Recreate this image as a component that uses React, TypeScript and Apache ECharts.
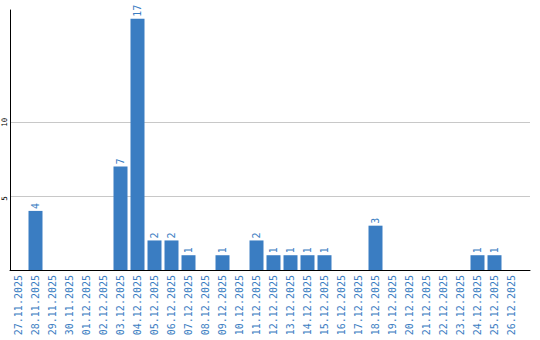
import React, { useEffect, useRef } from "react";
import * as echarts from "echarts";

const categories = [
  "27.11.2025", "28.11.2025", "29.11.2025", "30.11.2025", "01.12.2025", "02.12.2025",
  "03.12.2025", "04.12.2025", "05.12.2025", "06.12.2025", "07.12.2025", "08.12.2025",
  "09.12.2025", "10.12.2025", "11.12.2025", "12.12.2025", "13.12.2025", "14.12.2025",
  "15.12.2025", "16.12.2025", "17.12.2025", "18.12.2025", "19.12.2025", "20.12.2025",
  "21.12.2025", "22.12.2025", "23.12.2025", "24.12.2025", "25.12.2025", "26.12.2025",
];
const values = [
  0, 4, 0, 0, 0, 0,
  7, 17, 2, 2, 1, 0,
  1, 0, 2, 1, 1, 1,
  1, 0, 0, 3, 0, 0,
  0, 0, 0, 1, 1, 0,
];
const yTicks = [5, 10];

const BLUE = "#3a7dc2";
const MONO = "'DejaVu Sans Mono', monospace";

export default function App() {
  const ref = useRef<HTMLDivElement>(null);
  useEffect(() => {
    if (!ref.current) return;
    const chart = echarts.init(ref.current, undefined, { renderer: "svg" });
    const yMax = 17.6;
    chart.setOption({
      animation: false,
      grid: [
        { left: 10, right: 10, top: 10, bottom: 70 },
        { left: 10, right: 20, top: 10, bottom: 70 },
      ],
      xAxis: [
        {
          type: "value",
          gridIndex: 0,
          min: 0,
          max: 1,
          axisLine: { show: true, onZero: false, lineStyle: { color: "#000", width: 1 } },
          axisTick: { show: false },
          axisLabel: { show: false },
          splitLine: { show: false },
        },
        {
          type: "category",
          gridIndex: 1,
          data: categories,
          axisLine: { show: false },
          axisTick: { show: false },
          axisLabel: {
            rotate: 90,
            interval: 0,
            margin: 5,
            color: BLUE,
            fontFamily: MONO,
            fontSize: 10,
          },
        },
      ],
      yAxis: [
        {
          type: "value",
          gridIndex: 0,
          min: 0,
          max: yMax,
          interval: 5,
          axisLine: { show: true, lineStyle: { color: "#000", width: 1 } },
          axisTick: { show: false },
          axisLabel: {
            rotate: 90,
            align: "center",
            margin: 2,
            color: "#000",
            fontFamily: MONO,
            fontSize: 7.5,
            formatter: (v: number) =>
              yTicks.includes(v) ? String(v).padEnd(2, "\u00a0") : "",
          },
          splitLine: {
            show: true,
            lineStyle: {
              color: ["transparent", "#c8c8c8", "#c8c8c8", "transparent", "transparent"],
              width: 1,
            },
          },
        },
        {
          type: "value",
          gridIndex: 1,
          min: 0,
          max: yMax,
          show: false,
          splitLine: { show: false },
        },
      ],
      series: [
        {
          type: "bar",
          xAxisIndex: 1,
          yAxisIndex: 1,
          data: values,
          barWidth: 14,
          itemStyle: { color: BLUE },
          label: {
            show: true,
            position: "top",
            rotate: 90,
            align: "left",
            verticalAlign: "middle",
            distance: 2,
            color: BLUE,
            fontFamily: MONO,
            fontSize: 10,
            formatter: (p: any) => (p.value ? String(p.value) : ""),
          },
        },
      ],
    });
    return () => chart.dispose();
  }, []);
  return (
    <div
      ref={ref}
      style={{ position: "fixed", left: 0, top: 0, width: 540, height: 340, background: "#fff" }}
    />
  );
}
